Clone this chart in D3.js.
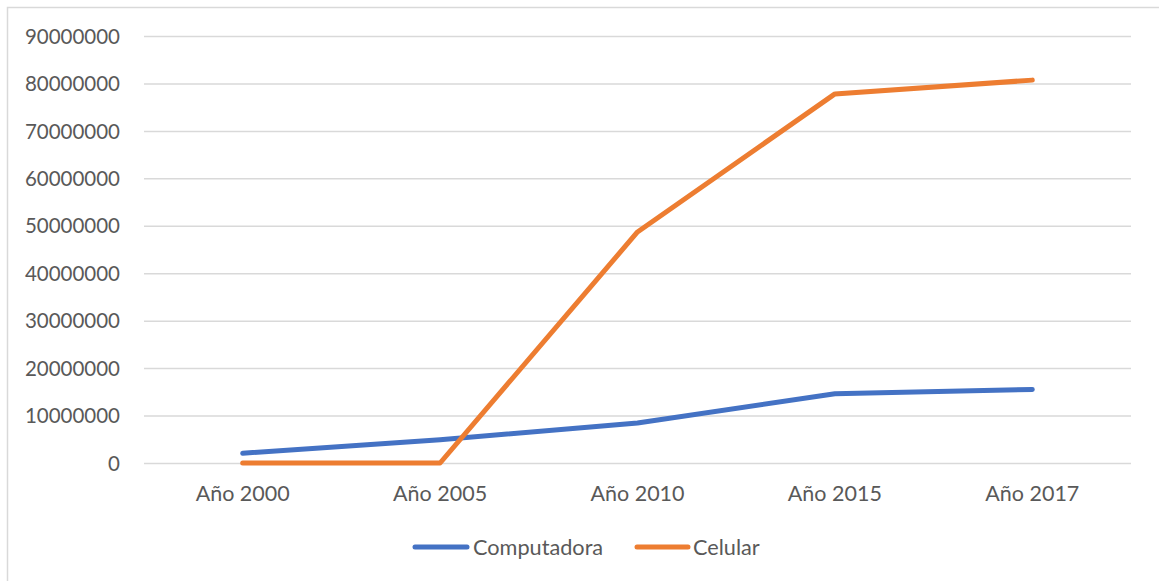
<!DOCTYPE html>
<html>
<head>
<meta charset="utf-8">
<script src="https://cdn.jsdelivr.net/npm/d3@7"></script>
<style>
  html, body { margin: 0; padding: 0; background: #fff; }
  svg { display: block; }
  text { font-family: Lato, "Open Sans", sans-serif; fill: #595959; }
</style>
</head>
<body>
<svg id="chart" width="1159" height="581"></svg>
<script>
// Hogares con acceso por año
const categories = ["Año 2000", "Año 2005", "Año 2010", "Año 2015", "Año 2017"];
const computadora = [2050000, 4900000, 8450000, 14600000, 15500000];
const celular = [0, 0, 48700000, 77800000, 80700000];
const yTicks = [0, 10000000, 20000000, 30000000, 40000000, 50000000, 60000000, 70000000, 80000000, 90000000];
const seriesNames = ["Computadora", "Celular"];
const seriesColors = ["#4472C4", "#ED7D31"];

const W = 1159, H = 581;
const svg = d3.select("#chart");

// outer chart frame
svg.append("rect")
  .attr("x", 7.5).attr("y", 7.5)
  .attr("width", W + 10).attr("height", H + 10)
  .attr("fill", "#fff").attr("stroke", "#d9d9d9").attr("stroke-width", 1.5);

const x = d3.scaleBand().domain(categories).range([144, 1131]).padding(0);
const y = d3.scaleLinear().domain([0, 90000000]).range([463, 36]);

// horizontal gridlines + y labels
const yAxis = d3.axisLeft(y).tickValues(yTicks).tickFormat(d3.format("d"))
  .tickSize(-(1131 - 144)).tickPadding(24);
const gy = svg.append("g").attr("transform", "translate(144,0)").call(yAxis);
gy.select(".domain").remove();
gy.selectAll(".tick line").attr("stroke", "#d9d9d9").attr("stroke-width", 1.5);
gy.selectAll(".tick text").attr("font-size", 20.5).attr("dy", "0.35em")
  .style("font-family", "Lato, 'Open Sans', sans-serif").attr("fill", "#595959");

// category labels
const xAxis = d3.axisBottom(x).tickSize(0).tickPadding(23);
const gx = svg.append("g").attr("transform", "translate(0,463)").call(xAxis);
gx.select(".domain").remove();
gx.selectAll(".tick text").attr("font-size", 21.5)
  .style("font-family", "Lato, 'Open Sans', sans-serif").attr("fill", "#595959");

// series lines
const line = d3.line()
  .x((d, i) => x(categories[i]) + x.bandwidth() / 2)
  .y(d => y(d));

[computadora, celular].forEach((vals, k) => {
  svg.append("path")
    .datum(vals)
    .attr("d", line)
    .attr("fill", "none")
    .attr("stroke", seriesColors[k])
    .attr("stroke-width", 5)
    .attr("stroke-linejoin", "round")
    .attr("stroke-linecap", "round");
});

// legend
const legendItems = [
  { x0: 415, x1: 467, tx: 473 },
  { x0: 637, x1: 688, tx: 693 }
];
const legendY = 547;
seriesNames.forEach((name, k) => {
  const it = legendItems[k];
  svg.append("line")
    .attr("x1", it.x0).attr("x2", it.x1)
    .attr("y1", legendY).attr("y2", legendY)
    .attr("stroke", seriesColors[k]).attr("stroke-width", 5)
    .attr("stroke-linecap", "round");
  svg.append("text")
    .attr("x", it.tx).attr("y", legendY)
    .attr("dy", "0.35em")
    .attr("font-size", 21.7)
    .text(name);
});
</script>
</body>
</html>
